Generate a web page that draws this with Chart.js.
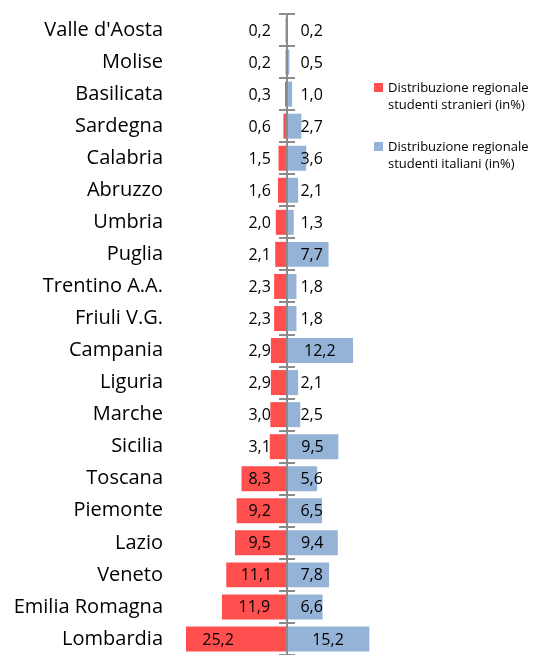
<!DOCTYPE html>
<html>
<head>
<meta charset="utf-8">
<script src="https://cdn.jsdelivr.net/npm/chart.js@4.4.0/dist/chart.umd.min.js"></script>
<style>
  html, body { margin: 0; padding: 0; background: #fff; }
  canvas { display: block; }
</style>
</head>
<body>
<canvas id="myChart" width="546" height="655"></canvas>
<script>
var regioni = ["Valle d'Aosta", 'Molise', 'Basilicata', 'Sardegna', 'Calabria', 'Abruzzo', 'Umbria', 'Puglia',
  'Trentino A.A.', 'Friuli V.G.', 'Campania', 'Liguria', 'Marche', 'Sicilia', 'Toscana', 'Piemonte',
  'Lazio', 'Veneto', 'Emilia Romagna', 'Lombardia'];
var stranieri = [0.2, 0.2, 0.3, 0.6, 1.5, 1.6, 2.0, 2.1, 2.3, 2.3, 2.9, 2.9, 3.0, 3.1, 8.3, 9.2, 9.5, 11.1, 11.9, 25.2];
var italiani = [0.2, 0.5, 1.0, 2.7, 3.6, 2.1, 1.3, 7.7, 1.8, 1.8, 12.2, 2.1, 2.5, 9.5, 5.6, 6.5, 9.4, 7.8, 6.6, 15.2];
var legendStranieri = ['Distribuzione regionale', 'studenti stranieri (in%)'];
var legendItaliani = ['Distribuzione regionale', 'studenti italiani (in%)'];

var rosso = '#FF4F4F';
var azzurro = '#95B3D7';

// etichette valori vicino all'asse centrale
const valueLabels = {
  id: 'valueLabels',
  afterDatasetsDraw(chart) {
    const ctx = chart.ctx, x = chart.scales.x, y = chart.scales.y;
    const zero = x.getPixelForValue(0);
    ctx.save();
    ctx.font = '16px "Open Sans"';
    ctx.fillStyle = '#000';
    ctx.textAlign = 'center';
    ctx.textBaseline = 'middle';
    chart.data.datasets.forEach((ds) => {
      ds.data.forEach((v, i) => {
        let cx = x.getPixelForValue(v / 2);
        if (v < 0) cx = Math.min(cx, zero - 27);
        else cx = Math.max(cx, zero + 25);
        ctx.fillText(Math.abs(v).toFixed(1).replace('.', ','), cx, y.getPixelForValue(i) + 1);
      });
    });
    ctx.restore();
  }
};

// asse verticale con tacche
const centerAxis = {
  id: 'centerAxis',
  afterDatasetsDraw(chart) {
    const ctx = chart.ctx, x = chart.scales.x, y = chart.scales.y;
    const zero = Math.round(x.getPixelForValue(0));
    ctx.save();
    ctx.strokeStyle = '#8C8C8C';
    ctx.lineWidth = 2;
    ctx.beginPath();
    ctx.moveTo(zero, chart.chartArea.top);
    ctx.lineTo(zero, chart.chartArea.bottom);
    for (let i = 0; i <= regioni.length; i++) {
      const py = Math.round(y.getPixelForValue(i - 0.5));
      ctx.moveTo(zero - 8, py);
      ctx.lineTo(zero + 8, py);
    }
    ctx.stroke();
    ctx.restore();
  }
};

// legenda a destra su due righe
const sideLegend = {
  id: 'sideLegend',
  afterDraw(chart) {
    const ctx = chart.ctx;
    const items = [[rosso, legendStranieri, 88], [azzurro, legendItaliani, 147]];
    ctx.save();
    ctx.font = '13px "Open Sans"';
    ctx.textBaseline = 'middle';
    items.forEach((it) => {
      ctx.fillStyle = it[0];
      ctx.fillRect(374, it[2] - 5, 9, 9);
      ctx.fillStyle = '#000';
      it[1].forEach((t, k) => ctx.fillText(t, 388, it[2] + k * 17));
    });
    ctx.restore();
  }
};

function draw() {
  new Chart('myChart', {
    type: 'bar',
    data: {
      labels: regioni,
      datasets: [
        { label: legendStranieri.join(' '), data: stranieri.map(v => -v), backgroundColor: rosso,
          barPercentage: 0.78, categoryPercentage: 1 },
        { label: legendItaliani.join(' '), data: italiani, backgroundColor: azzurro,
          barPercentage: 0.78, categoryPercentage: 1 }
      ]
    },
    options: {
      indexAxis: 'y',
      responsive: false,
      devicePixelRatio: 1,
      animation: false,
      layout: { padding: { left: 0, right: 175, top: 14, bottom: 0 } },
      plugins: { legend: { display: false }, tooltip: { enabled: false } },
      scales: {
        x: { display: false, stacked: true, min: -18.5, max: 15.5 },
        y: {
          stacked: true,
          grid: { display: false, drawTicks: false },
          border: { display: false },
          ticks: { color: '#000', font: { family: 'Open Sans', size: 20 }, padding: 23 },
          afterFit(scale) {
            scale.width = 186;
            scale.paddingTop = 0;
            scale.paddingBottom = 0;
          }
        }
      }
    },
    plugins: [valueLabels, centerAxis, sideLegend]
  });
}

document.fonts.load('16px "Open Sans"').then(draw, draw);
</script>
</body>
</html>
